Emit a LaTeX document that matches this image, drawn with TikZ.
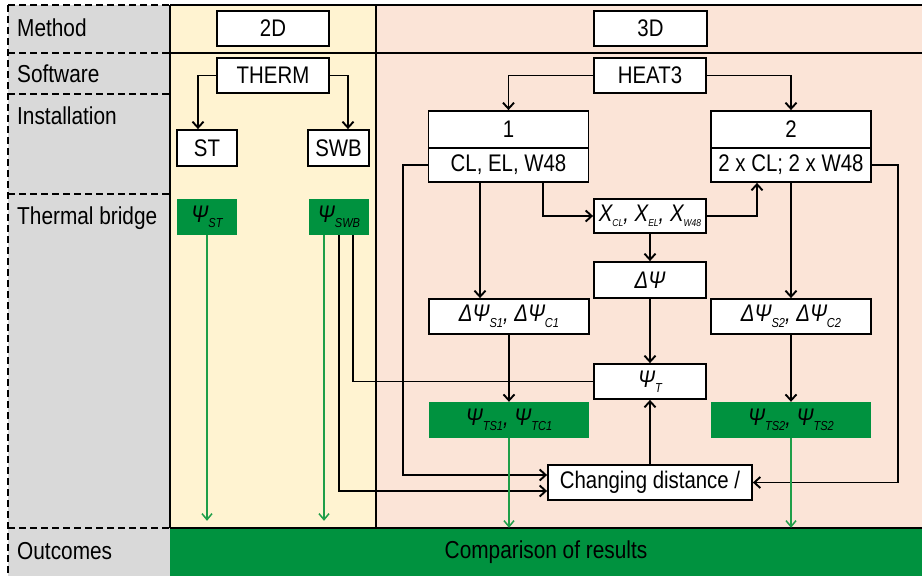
\documentclass[tikz,border=0pt]{standalone}
\usepackage{fontspec}
\setmainfont{Liberation Sans}[FakeStretch=0.85]
\usetikzlibrary{arrows.meta}
\definecolor{gbg}{HTML}{D9D9D9}
\definecolor{ybg}{HTML}{FFF3D1}
\definecolor{pbg}{HTML}{FBE4D7}
\definecolor{dgreen}{HTML}{00923F}
\definecolor{lgreen}{HTML}{1E9E48}
\newcommand\sbs[1]{\raisebox{-5.5pt}{\fontsize{13}{13}\selectfont\itshape #1}}
\newcommand\sbx[1]{\raisebox{-4.5pt}{\fontsize{10}{10}\selectfont\itshape #1}}
\begin{document}
\begin{tikzpicture}[x=1pt,y=-1pt,
  box/.style={draw=black, line width=1.8pt, fill=white, inner sep=0pt,
    font=\fontsize{24}{27}\selectfont, minimum height=35pt},
  gbox/.style={fill=dgreen, inner sep=0pt, font=\fontsize{24}{27}\selectfont,
    minimum height=36pt},
  lab/.style={anchor=west, inner sep=0pt, font=\fontsize{24.5}{28}\selectfont},
  arr/.style={line width=1.9pt, -{Straight Barb[length=6pt,width=11pt,line width=1.9pt]}},
  plain/.style={line width=1.9pt},
  garr/.style={draw=lgreen, line width=1.5pt, -{Straight Barb[length=6pt,width=10pt,line width=1.5pt]}},
  sep/.style={line width=1.6pt},
  dsep/.style={line width=1.6pt, dash pattern=on 7pt off 4pt}
]
\useasboundingbox (0,0) rectangle (922,576);
% backgrounds
\fill[gbg] (8,5) rectangle (170,576);
\fill[ybg] (170,5) rectangle (376,528);
\fill[pbg] (376,5) rectangle (922,528);
% separators
\draw[dsep] (8,5) -- (8,576);
\draw[dsep] (8,5) -- (170,5);
\draw[dsep] (8,53) -- (170,53);
\draw[dsep] (8,94) -- (170,94);
\draw[dsep] (8,194) -- (170,194);
\draw[dsep] (8,528) -- (170,528);
\draw[sep] (170,5) -- (922,5);
\draw[sep] (170,53) -- (922,53);
\draw[sep] (170,5) -- (170,528);
\draw[sep] (376,5) -- (376,528);
% outcomes bar
\node[fill=dgreen, minimum width=752pt, minimum height=48pt, inner sep=0pt,
  font=\fontsize{24.5}{28}\selectfont] (out) at (546,552) {Comparison of results};
\draw[sep] (170,528) -- (922,528);
% row labels
\node[lab] (lmethod) at (17,28) {Method};
\node[lab] (lsoft) at (17,74) {Software};
\node[lab] (linst) at (17,116) {Installation};
\node[lab] (ltb) at (17,218) {Thermal bridge};
\node[lab] (lout) at (17,551) {Outcomes};
% nodes
\node[box, minimum width=112pt] (d2) at (273,28.5) {2D};
\node[box, minimum width=113pt] (d3) at (650.5,28.5) {3D};
\node[box, minimum width=112pt] (therm) at (273,75.5) {THERM};
\node[box, minimum width=112pt] (heat) at (650,75.5) {HEAT3};
\node[box, minimum width=60pt, minimum height=36pt] (st) at (207,148) {ST};
\node[box, minimum width=61pt, minimum height=36pt] (swb) at (338.5,148) {SWB};
\node[box, minimum width=160pt, minimum height=37pt] (n1a) at (508.5,129.5) {1};
\node[box, minimum width=160pt, minimum height=34pt] (n1b) at (508.5,165) {CL, EL, W48};
\node[box, minimum width=160pt, minimum height=37pt] (n2a) at (791,129.5) {2};
\node[box, minimum width=160pt, minimum height=34pt] (n2b) at (791,165) {2 x CL; 2 x W48};
\node[box, minimum width=112pt, minimum height=34pt] (xn) at (650,216)
  {\itshape X\sbx{CL}, X\sbx{EL}, X\sbx{W48}};
\node[box, minimum width=112pt, minimum height=36pt] (dpsi) at (650,280) {\itshape ΔΨ};
\node[box, minimum width=160pt] (ds1) at (509,316.5)
  {\itshape ΔΨ\sbs{S1}, ΔΨ\sbs{C1}};
\node[box, minimum width=160pt] (ds2) at (791,316.5)
  {\itshape ΔΨ\sbs{S2}, ΔΨ\sbs{C2}};
\node[box, minimum width=112pt] (psit) at (650,381.5) {\itshape Ψ\sbs{T}};
\node[gbox, minimum width=160pt] (ts1) at (509,420)
  {\itshape Ψ\sbs{TS1}, Ψ\sbs{TC1}};
\node[gbox, minimum width=160pt] (ts2) at (791,420)
  {\itshape Ψ\sbs{TS2}, Ψ\sbs{TS2}};
\node[gbox, minimum width=60pt] (pst) at (207,217) {\itshape Ψ\sbs{ST}};
\node[gbox, minimum width=60pt] (pswb) at (339,217) {\itshape Ψ\sbs{SWB}};
\node[box, minimum width=204pt] (chg) at (650,482.5) {Changing distance /};
% connectors
\draw[arr] (therm.west) -| ([xshift=-9pt]st.north);
\draw[arr] (therm.east) -| ([xshift=9.5pt]swb.north);
\draw[arr] (heat.west) -| (n1a.north);
\draw[arr] (heat.east) -| (n2a.north);
\draw[arr] ([xshift=34.5pt]n1b.south) |- (xn.west);
\draw[arr] (xn.east) -| ([xshift=-34pt]n2b.south);
\draw[arr] ([xshift=-28.5pt]n1b.south) -- ([xshift=-29pt]ds1.north);
\draw[arr] (n2b.south) -- (ds2.north);
\draw[arr] (xn.south) -- (dpsi.north);
\draw[arr] (dpsi.south) -- (psit.north);
\draw[arr] (ds1.south) -- (ts1.north);
\draw[arr] (ds2.south) -- (ts2.north);
\draw[arr] (chg.north) -- (psit.south);
\draw[arr] (n1b.west) -- ++(-25,0) |- ([yshift=7.5pt]chg.west);
\draw[arr] (n2b.east) -- ++(26,0) |- (chg.east);
\draw[arr] (pswb.south) |- ([yshift=-8.5pt]chg.west);
\draw[plain] ([xshift=14pt]pswb.south) |- (psit.west);
\draw[garr] (pst.south) -- ([yshift=7pt]pst.south |- out.north);
\draw[garr] ([xshift=-15pt]pswb.south) -- ([xshift=-15pt,yshift=7pt]pswb.south |- out.north);
\draw[garr] (ts1.south) -- (ts1.south |- out.north);
\draw[garr] (ts2.south) -- (ts2.south |- out.north);
\end{tikzpicture}
\end{document}
